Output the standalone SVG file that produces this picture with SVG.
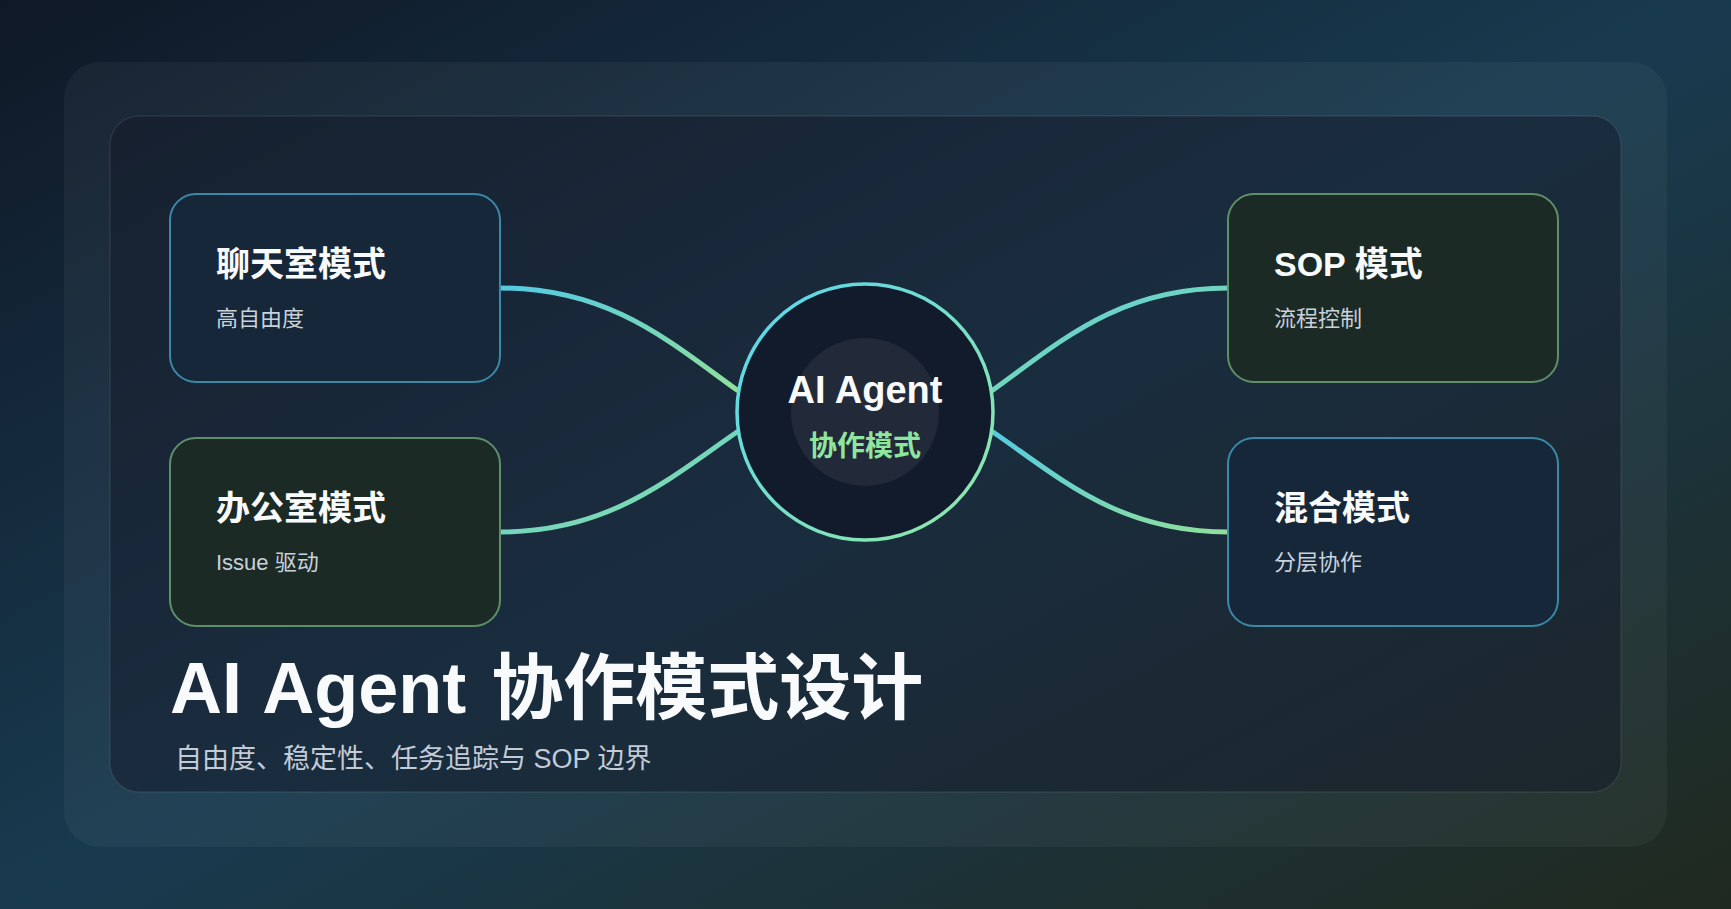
<svg xmlns="http://www.w3.org/2000/svg" width="1731" height="909" viewBox="0 0 1731 909">
  <defs>
    <linearGradient id="bg" x1="0" y1="0" x2="1" y2="1">
      <stop offset="0" stop-color="#0f1826"/>
      <stop offset="0.5" stop-color="#183a4f"/>
      <stop offset="1" stop-color="#20291f"/>
    </linearGradient>
    <linearGradient id="flow" x1="0" y1="0" x2="1" y2="1">
      <stop offset="0" stop-color="#55cbe2"/>
      <stop offset="1" stop-color="#8fe09a"/>
    </linearGradient>
    <linearGradient id="ring" x1="0" y1="0" x2="1" y2="1">
      <stop offset="0" stop-color="#57d6f0"/>
      <stop offset="1" stop-color="#93e8a4"/>
    </linearGradient>
    <style>
      .t { font-family: "Liberation Sans", "Noto Sans CJK SC", sans-serif; }
      .title { font-size: 34px; font-weight: 700; fill: #f8fafc; }
      .sub { font-size: 22px; font-weight: 400; fill: #c9d1db; }
      .blue { fill: #162739; stroke: #3a89a6; stroke-width: 2; }
      .green { fill: #1b2a25; stroke: #5e8f69; stroke-width: 2; }
      .conn { fill: none; stroke: url(#flow); stroke-width: 5; stroke-linecap: round; }
    </style>
  </defs>

  <rect x="0" y="0" width="1731" height="909" fill="url(#bg)"/>
  <rect x="64" y="62" width="1603" height="785" rx="36" fill="#ffffff" fill-opacity="0.045"/>
  <rect x="110" y="116" width="1511" height="676" rx="29" fill="#111827" fill-opacity="0.5" stroke="#ffffff" stroke-opacity="0.08" stroke-width="1.5"/>

  <g id="connectors">
    <path class="conn" d="M500,288 C610,288 670,342 737,390"/>
    <path class="conn" d="M500,532 C610,532 670,478 737,432"/>
    <path class="conn" d="M993,390 C1060,342 1118,288 1228,288"/>
    <path class="conn" d="M993,432 C1060,478 1118,532 1228,532"/>
  </g>

  <g id="node-chat">
    <rect class="blue" x="170" y="194" width="330" height="188" rx="26"/>
    <text class="t title" x="216" y="276">聊天室模式</text>
    <text class="t sub" x="216" y="326">高自由度</text>
  </g>

  <g id="node-office">
    <rect class="green" x="170" y="438" width="330" height="188" rx="26"/>
    <text class="t title" x="216" y="520">办公室模式</text>
    <text class="t sub" x="216" y="570">Issue 驱动</text>
  </g>

  <g id="node-sop">
    <rect class="green" x="1228" y="194" width="330" height="188" rx="26"/>
    <text class="t title" x="1274" y="276">SOP 模式</text>
    <text class="t sub" x="1274" y="326">流程控制</text>
  </g>

  <g id="node-hybrid">
    <rect class="blue" x="1228" y="438" width="330" height="188" rx="26"/>
    <text class="t title" x="1274" y="520">混合模式</text>
    <text class="t sub" x="1274" y="570">分层协作</text>
  </g>

  <g id="node-center">
    <circle cx="865" cy="412" r="128" fill="#121b2b" stroke="url(#ring)" stroke-width="3.5"/>
    <circle cx="865" cy="412" r="74" fill="#222a3a"/>
    <text class="t" x="865" y="403" text-anchor="middle" font-size="38" font-weight="700" fill="#f8fafc">AI Agent</text>
    <text class="t" x="865" y="456" text-anchor="middle" font-size="28" font-weight="700" fill="#8ee59e">协作模式</text>
  </g>

  <g id="heading">
    <text class="t" x="170" y="713" font-size="72" font-weight="700" fill="#f8fafc" word-spacing="3">AI Agent <tspan dx="2">协作模式设计</tspan></text>
    <text class="t" x="175" y="768" font-size="27" font-weight="400" fill="#c3cbd6">自由度、稳定性、任务追踪与 SOP 边界</text>
  </g>
</svg>
